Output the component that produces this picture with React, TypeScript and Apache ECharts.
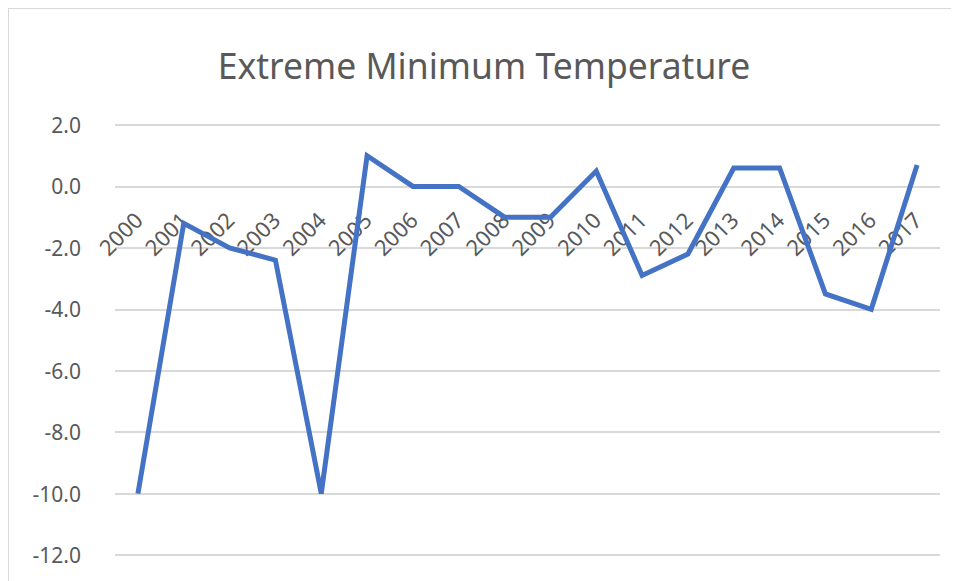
import React, { useEffect, useRef } from "react";
import * as echarts from "echarts";

const years = ["2000","2001","2002","2003","2004","2005","2006","2007","2008","2009","2010","2011","2012","2013","2014","2015","2016","2017"];
const minTemps = [-10.0, -1.2, -2.0, -2.4, -10.0, 1.0, 0.0, 0.0, -1.0, -1.0, 0.5, -2.9, -2.2, 0.6, 0.6, -3.5, -4.0, 0.7];
const titleText = "Extreme Minimum Temperature";
const yMin = -12;
const yMax = 2;
const yStep = 2;

const CHART_W = 950;
const CHART_H = 572;
const GRID = { left: 106, right: 19, top: 116, bottom: 26 };

export default function App() {
  const ref = useRef<HTMLDivElement>(null);
  useEffect(() => {
    if (!ref.current) return;
    const chart = echarts.init(ref.current, null, { renderer: "svg" });
    const gridH = CHART_H - GRID.top - GRID.bottom;
    const zeroOffset = -(gridH * (0 - yMin)) / (yMax - yMin);
    chart.setOption({
      animation: false,
      backgroundColor: "#ffffff",
      title: {
        text: titleText,
        left: "center",
        top: 33,
        textStyle: { fontFamily: "Noto Sans", fontWeight: "normal", fontSize: 35.5, color: "#595959" },
      },
      grid: GRID,
      xAxis: {
        type: "category",
        data: years,
        boundaryGap: true,
        position: "bottom",
        offset: zeroOffset,
        axisLine: { show: false, onZero: false },
        axisTick: { show: false },
        axisLabel: {
          rotate: 45,
          margin: 29,
          fontFamily: "Noto Sans",
          fontSize: 22,
          color: "#595959",
        },
      },
      yAxis: {
        type: "value",
        min: yMin,
        max: yMax,
        interval: yStep,
        axisLine: { show: false },
        axisTick: { show: false },
        splitLine: { lineStyle: { color: "#d9d9d9", width: 2 } },
        axisLabel: {
          margin: 34,
          fontFamily: "Noto Sans",
          fontSize: 21,
          color: "#595959",
          formatter: (v: number) => v.toFixed(1),
        },
      },
      series: [
        {
          type: "line",
          data: minTemps,
          symbol: "none",
          lineStyle: { color: "#4472C4", width: 5, join: "miter" },
        },
      ],
    });
    return () => chart.dispose();
  }, []);
  return (
    <div style={{ width: CHART_W, height: CHART_H, borderTop: "1px solid #d9d9d9", borderLeft: "1px solid #d9d9d9" }}>
      <div ref={ref} style={{ width: CHART_W, height: CHART_H }} />
    </div>
  );
}
